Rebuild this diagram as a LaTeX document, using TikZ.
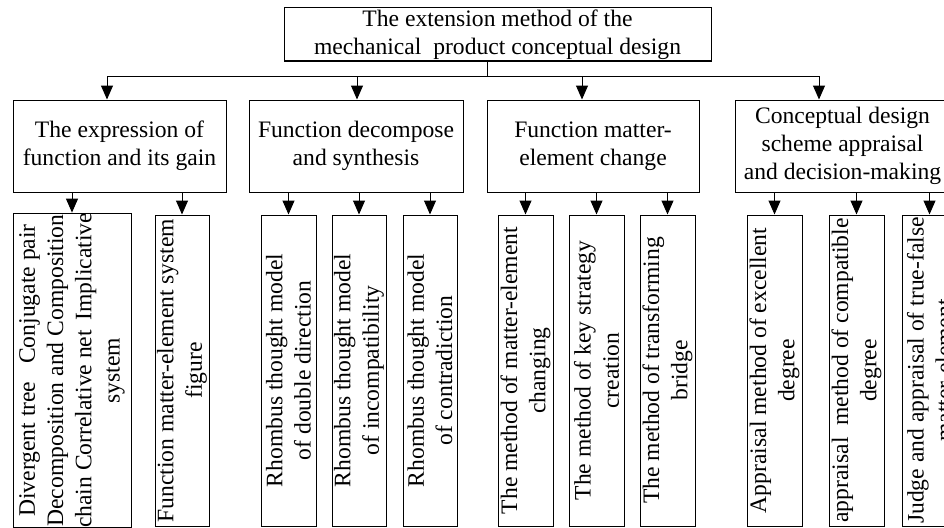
\documentclass[tikz,border=0pt]{standalone}
\usepackage{fontspec}
\setmainfont{Liberation Serif}
\usetikzlibrary{arrows.meta}
\begin{document}
\begin{tikzpicture}[x=1pt,y=-1pt,
  every node/.style={font=\fontsize{23.6}{28.3}\selectfont, inner sep=0pt, align=center},
  topbox/.style={draw, line width=1pt, minimum width=427pt, minimum height=53pt},
  midbox/.style={draw, line width=1pt, minimum height=92pt},
  leafbox/.style={draw, line width=1pt, rotate=90, minimum width=311pt},
  conn/.style={line width=1pt},
  arr/.style={line width=1pt, -{Triangle[width=12pt,length=14pt]}}]
\useasboundingbox (0,0) rectangle (944,527);
\clip (0,0) rectangle (944,527);
% top
\node[topbox] (top) at (497.5,34.5) {The extension method of the\\mechanical\ \ product conceptual design};
% level 2
\node[midbox, minimum width=213pt] (b1) at (119.5,146) {The expression of\\function and its gain};
\node[midbox, minimum width=214pt] (b2) at (356,146) {Function decompose\\and synthesis};
\node[midbox, minimum width=212pt] (b3) at (593,146) {Function matter-\\element change};
\node[midbox, minimum width=215pt] (b4) at (842.5,146) {Conceptual design\\scheme appraisal\\and decision-making};
% bus
\coordinate (stem) at (487,76);
\coordinate (j1) at (107,76);
\coordinate (j2) at (357,76);
\coordinate (j3) at (582,76);
\coordinate (j4) at (819,76);
\draw[conn] (stem |- top.south) -- (stem);
\draw[conn] (j1) -- (j4);
\draw[arr] (j1) -- (j1 |- b1.north);
\draw[arr] (j2) -- (j2 |- b2.north);
\draw[arr] (j3) -- (j3 |- b3.north);
\draw[arr] (j4) -- (j4 |- b4.north);
% level 3
\node[leafbox, minimum height=118pt] (c1a) at (72,370.5) {Divergent tree\ \ \ Conjugate pair\\Decomposition and Composition\\chain Correlative net\hspace{0.15em} Implicative\\system};
\node[leafbox, minimum height=54pt] (c1b) at (182,370.5) {Function matter-element system\\figure};
\node[leafbox, minimum height=55pt] (c2a) at (288.5,370.5) {Rhombus thought model\\of double direction};
\node[leafbox, minimum height=54pt] (c2b) at (359,370.5) {Rhombus thought model\\of incompatibility};
\node[leafbox, minimum height=54pt] (c2c) at (430,370.5) {Rhombus thought model\\of contradiction};
\node[leafbox, minimum height=55pt] (c3a) at (525.5,370.5) {The method of matter-element\\changing};
\node[leafbox, minimum height=55pt] (c3b) at (596.5,370.5) {The method of key strategy\\creation};
\node[leafbox, minimum height=55pt] (c3c) at (667.5,370.5) {The method of transforming\\bridge};
\node[leafbox, minimum height=55pt] (c4a) at (774.5,370.5) {Appraisal method of excellent\\degree};
\node[leafbox, minimum height=55pt] (c4b) at (856.5,370.5) {appraisal\ \ method of compatible\\degree};
\node[leafbox, minimum height=55pt] (c4c) at (929.5,370.5) {Judge and appraisal of true-false\\matter-element};
\foreach \p/\c in {b1/c1a,b1/c1b,b2/c2a,b2/c2b,b2/c2c,b3/c3a,b3/c3b,b3/c3c,b4/c4a,b4/c4b,b4/c4c}
  \draw[arr] (\c.east |- \p.south) -- (\c.east);
\end{tikzpicture}
\end{document}
